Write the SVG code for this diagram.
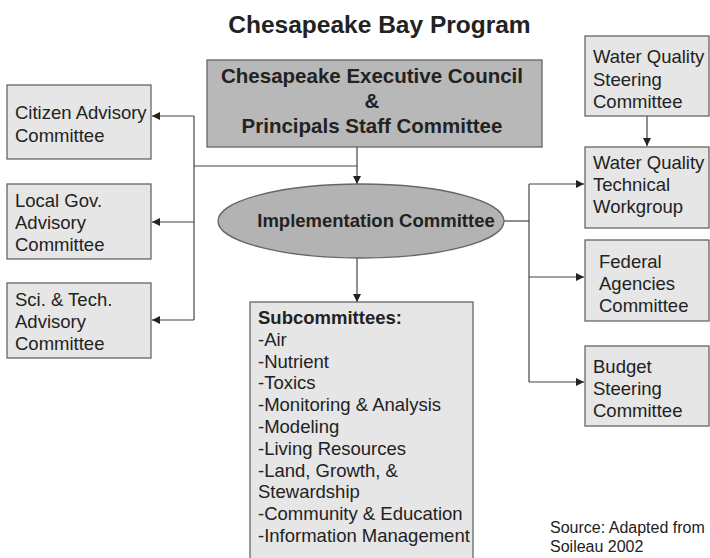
<svg xmlns="http://www.w3.org/2000/svg" width="710" height="558" viewBox="0 0 710 558">
<style>
text{font-family:"Liberation Sans",Arial,sans-serif;fill:#222}
.box{fill:#e6e6e6;stroke:#666;stroke-width:1.3}
.dark{fill:#b8b8b8;stroke:#666;stroke-width:1.3}
.t{font-size:18.5px}
.b{font-weight:bold}
.c{fill:none;stroke:#444;stroke-width:1.2}
</style>
<defs>
<marker id="ah" viewBox="0 0 10 10" refX="10" refY="5" markerWidth="8" markerHeight="8" markerUnits="userSpaceOnUse" orient="auto">
<path d="M0,0 L10,5 L0,10 z" fill="#222"/>
</marker>
</defs>
<rect width="710" height="558" fill="#fff"/>
<text x="379.5" y="33" font-size="24.5" class="b" text-anchor="middle">Chesapeake Bay Program</text>

<g id="connectors">
<path class="c" d="M357,147 V184" marker-end="url(#ah)"/>
<path class="c" d="M357,166 H194"/>
<path class="c" d="M194,116 V320"/>
<path class="c" d="M194,116 H152" marker-end="url(#ah)"/>
<path class="c" d="M194,222 H152" marker-end="url(#ah)"/>
<path class="c" d="M194,320 H152" marker-end="url(#ah)"/>
<path class="c" d="M357,258 V302" marker-end="url(#ah)"/>
<path class="c" d="M504,221 H529"/>
<path class="c" d="M529,184 V382"/>
<path class="c" d="M529,184 H584" marker-end="url(#ah)"/>
<path class="c" d="M529,277 H584" marker-end="url(#ah)"/>
<path class="c" d="M529,382 H584" marker-end="url(#ah)"/>
<path class="c" d="M647,116 V146" marker-end="url(#ah)"/>
</g>

<g id="exec">
<rect class="dark" x="207" y="60" width="335" height="87"/>
<text class="b" font-size="20.5" x="372" y="83" text-anchor="middle">Chesapeake Executive Council</text>
<text class="b" font-size="20.5" x="372" y="108" text-anchor="middle">&amp;</text>
<text class="b" font-size="20.5" x="372" y="133" text-anchor="middle">Principals Staff Committee</text>
</g>

<g id="citizen">
<rect class="box" x="7" y="85" width="144" height="74"/>
<text class="t" x="15" y="119">Citizen Advisory</text>
<text class="t" x="15" y="142">Committee</text>
</g>

<g id="localgov">
<rect class="box" x="7" y="184" width="144" height="75"/>
<text class="t" x="15" y="207">Local Gov.</text>
<text class="t" x="15" y="229">Advisory</text>
<text class="t" x="15" y="251">Committee</text>
</g>

<g id="scitech">
<rect class="box" x="7" y="283" width="144" height="75"/>
<text class="t" x="15" y="306">Sci. &amp; Tech.</text>
<text class="t" x="15" y="328">Advisory</text>
<text class="t" x="15" y="350">Committee</text>
</g>

<g id="implementation">
<ellipse cx="361" cy="221" rx="143" ry="37" fill="#b3b3b3" stroke="#666" stroke-width="1.3"/>
<text class="b" font-size="18.5" x="376" y="227" text-anchor="middle">Implementation Committee</text>
</g>

<g id="subcommittees">
<rect class="box" x="250" y="302" width="223" height="262"/>
<text class="t b" x="258" y="324">Subcommittees:</text>
<text class="t" x="258" y="346">-Air</text>
<text class="t" x="258" y="368">-Nutrient</text>
<text class="t" x="258" y="389">-Toxics</text>
<text class="t" x="258" y="411">-Monitoring &amp; Analysis</text>
<text class="t" x="258" y="433">-Modeling</text>
<text class="t" x="258" y="455">-Living Resources</text>
<text class="t" x="258" y="477">-Land, Growth, &amp;</text>
<text class="t" x="258" y="498">Stewardship</text>
<text class="t" x="258" y="520">-Community &amp; Education</text>
<text class="t" x="258" y="542">-Information Management</text>
</g>

<g id="wqsteering">
<rect class="box" x="585" y="36" width="124" height="80"/>
<text class="t" x="593" y="63">Water Quality</text>
<text class="t" x="593" y="86">Steering</text>
<text class="t" x="593" y="108">Committee</text>
</g>

<g id="wqtechnical">
<rect class="box" x="585" y="147" width="124" height="81"/>
<text class="t" x="593" y="169">Water Quality</text>
<text class="t" x="593" y="191">Technical</text>
<text class="t" x="593" y="213">Workgroup</text>
</g>

<g id="federal">
<rect class="box" x="585" y="240" width="124" height="81"/>
<text class="t" x="599" y="268">Federal</text>
<text class="t" x="599" y="290">Agencies</text>
<text class="t" x="599" y="312">Committee</text>
</g>

<g id="budget">
<rect class="box" x="585" y="346" width="124" height="80"/>
<text class="t" x="593" y="373">Budget</text>
<text class="t" x="593" y="395">Steering</text>
<text class="t" x="593" y="417">Committee</text>
</g>

<g id="source">
<text font-size="16" x="550" y="533">Source: Adapted from</text>
<text font-size="16" x="550" y="552">Soileau 2002</text>
</g>
</svg>
